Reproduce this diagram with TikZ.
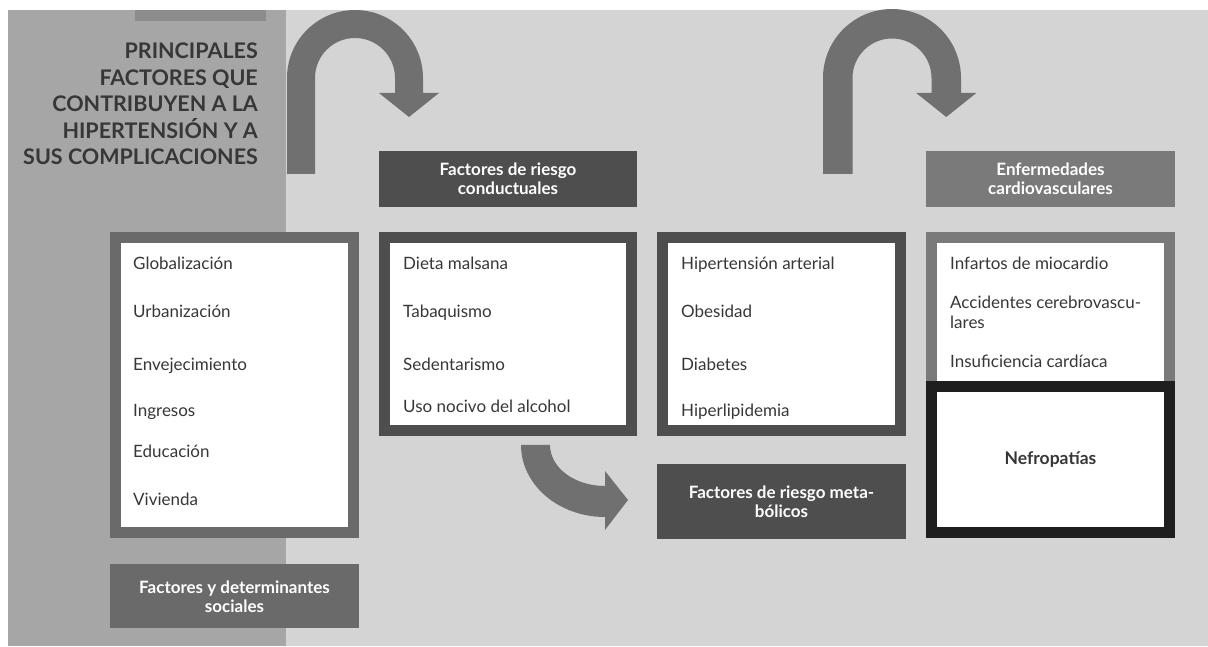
\documentclass[tikz,border=0pt]{standalone}
\usepackage{fontspec}
\setmainfont{Lato}
\usepackage{tikz}
\usetikzlibrary{positioning,calc}
\definecolor{ink}{RGB}{55,55,55}
\definecolor{bandL}{RGB}{166,166,166}
\definecolor{bandR}{RGB}{212,212,212}
\definecolor{strip}{RGB}{140,140,140}
\definecolor{arrowc}{RGB}{112,112,112}
\definecolor{cDark}{RGB}{78,78,78}
\definecolor{cSoc}{RGB}{106,106,106}
\definecolor{cCard}{RGB}{122,122,122}
\definecolor{cBlack}{RGB}{30,30,30}
\tikzset{
  head/.style={fill=#1,text=white,inner sep=0pt,align=center,
    font=\bfseries\fontsize{17}{19}\selectfont},
  listbox/.style={draw=#1,fill=white,line width=11pt},
  item/.style={anchor=base west,inner sep=0pt,text=ink,align=left,
    font=\fontsize{17}{20}\selectfont},
  blockarr/.style={fill=arrowc,draw=none},
}

\begin{document}
\begin{tikzpicture}[x=1pt,y=1pt]
  \useasboundingbox (0,0) rectangle (1208,646);
  % background bands
  \fill[bandR] (8,0) rectangle (1208,636);
  \fill[bandL] (8,0) rectangle (286,636);
  \fill[strip] (135,625) rectangle (266,636);

  \node[anchor=north east,align=right,inner sep=0pt,text=ink,
    font=\bfseries\fontsize{21.5}{26.5}\selectfont] (title) at (258,603)
    {PRINCIPALES\\FACTORES QUE\\CONTRIBUYEN A LA\\HIPERTENSIÓN Y A\\SUS COMPLICACIONES};

  % headers and lists
  \node[head=cDark,minimum width=258pt,minimum height=56pt] (conduct) at (508,467)
    {Factores de riesgo\\conductuales};
  \node[head=cCard,minimum width=249pt,minimum height=56pt] (cardio) at (1050.5,467)
    {Enfermedades\\cardiovasculares};
  \node[listbox=cDark,minimum width=247pt,minimum height=193pt,below=25pt of conduct] (lconduct) {};
  \node[listbox=cDark,minimum width=238pt,minimum height=193pt,right=20pt of lconduct] (lmetab) {};
  \node[head=cDark,minimum width=249pt,minimum height=75pt,below=28pt of lmetab] (metab)
    {Factores de riesgo meta-\\bólicos};
  \node[listbox=cSoc,minimum width=238pt,minimum height=295pt,
    below left=0pt and 20pt of lconduct.north west] (lsocial) {};
  \node[head=cSoc,minimum width=249pt,minimum height=64pt,below=26pt of lsocial] (social)
    {Factores y determinantes\\sociales};
  \node[listbox=cCard,minimum width=238pt,minimum height=149pt,below=25pt of cardio] (lcardio) {};
  \node[listbox=cBlack,minimum width=238pt,minimum height=146pt,below=-11pt of lcardio,
    text=ink,font=\bfseries\fontsize{17.5}{20}\selectfont] (nefro) {Nefropatías};

  % list entries
  \foreach \t/\yy [count=\i] in {Globalización/376,Urbanización/328,Envejecimiento/275,
      Ingresos/229,Educación/189,Vivienda/141}
    \node[item] (s\i) at (133,\yy) {\t};
  \foreach \t/\yy [count=\i] in {Dieta malsana/376,Tabaquismo/328,Sedentarismo/275,
      Uso nocivo del alcohol/233}
    \node[item] (c\i) at (403,\yy) {\t};
  \foreach \t/\yy [count=\i] in {Hipertensión arterial/376,Obesidad/328,Diabetes/275,
      Hiperlipidemia/229}
    \node[item] (m\i) at (681,\yy) {\t};
  \node[item] (e1) at (950,376) {Infartos de miocardio};
  \node[item] (e2) at (950,317) {Accidentes cerebrovascu-\\lares};
  \node[item] (e3) at (950,278) {Insuficiencia cardíaca};

  % U-turn arrows
  \foreach \cx/\ro/\ri in {355/68/40,892/69/39.5}
    \fill[blockarr] ({\cx-\ro},472) -- ({\cx-\ro},568)
      arc[start angle=180,end angle=0,radius=\ro] -- ({\cx+\ro},553)
      -- ({\cx+(\ro+\ri)/2+30},553) -- ({\cx+(\ro+\ri)/2},529)
      -- ({\cx+(\ro+\ri)/2-30},553) -- ({\cx+\ri},553) -- ({\cx+\ri},568)
      arc[start angle=0,end angle=180,radius=\ri] -- ({\cx-\ri},472) -- cycle;
  % bend arrow to metabolic factors
  \fill[blockarr] (550,201) -- (521,201)
    arc[start angle=180,end angle=270,x radius=84,y radius=72] -- (605,116)
    -- (628,146) -- (605,175) -- (605,160)
    arc[start angle=270,end angle=180,x radius=55,y radius=41] -- cycle;
\end{tikzpicture}
\end{document}
